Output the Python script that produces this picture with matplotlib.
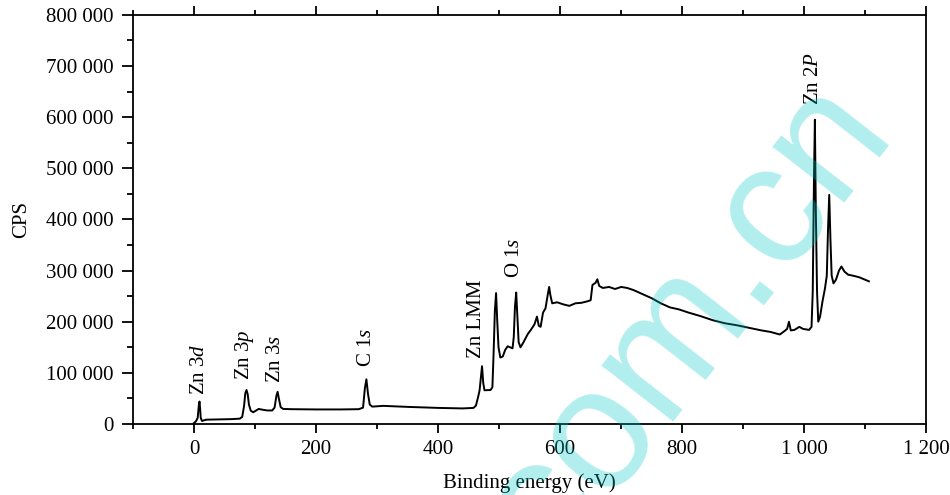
import matplotlib
matplotlib.use("Agg")
import matplotlib.pyplot as plt
from matplotlib.ticker import MultipleLocator, FuncFormatter

# binding energy (eV) and counts
energy = [0, 3, 6, 8, 9, 10, 11, 13, 16, 20, 40, 60, 75, 79, 82, 84, 86, 88, 90, 93,
          97, 101, 106, 112, 120, 128, 132, 135, 137, 139, 142, 146, 160, 200, 240,
          270, 277, 280, 282.5, 285, 288, 292, 310, 350, 400, 440, 458, 462, 466, 468,
          470, 472, 474, 476, 486, 489, 491, 493, 495, 497, 499, 502, 506, 510, 514,
          518, 522, 524, 526, 528, 530, 532, 535, 540, 547, 552, 558, 562, 565, 568,
          572, 576, 580, 582, 584, 587, 595, 605, 615, 625, 635, 645, 650, 653, 658,
          661, 664, 670, 680, 690, 700, 710, 720, 735, 750, 765, 780, 795, 810, 830,
          850, 870, 890, 910, 930, 945, 960, 968, 972, 975, 978, 984, 992, 998, 1008,
          1012, 1014, 1016, 1017.5, 1019, 1021, 1023, 1026, 1030, 1034, 1037, 1039,
          1041, 1043, 1045, 1048, 1052, 1057, 1061, 1066, 1072, 1080, 1090, 1098, 1106]
cps = [2000, 5000, 12000, 38000, 44000, 30000, 12000, 6000, 7000, 8500, 9000, 9500,
       10500, 14000, 35000, 60000, 66500, 58000, 38000, 26000, 23000, 26000, 29500,
       28000, 26500, 26500, 32000, 55000, 63000, 50000, 33000, 29500, 29000, 28500,
       28500, 29000, 32000, 70000, 87500, 60000, 38000, 34000, 35500, 33500, 31500,
       30500, 31500, 36000, 55000, 66000, 90000, 113000, 80000, 66000, 66500, 72000,
       140000, 220000, 256000, 200000, 150000, 130000, 132000, 145000, 152000, 150000,
       148000, 170000, 230000, 257000, 210000, 160000, 150000, 160000, 176000, 184000,
       195000, 210000, 192000, 190000, 218000, 226000, 255000, 268000, 252000, 236000,
       238000, 234000, 231000, 236000, 237000, 240000, 242000, 272000, 276000, 283000,
       270000, 266000, 268000, 264000, 268000, 266000, 262000, 254000, 246000, 236000,
       228000, 224000, 218000, 211000, 203000, 197000, 193000, 188000, 183000, 180000,
       175000, 182000, 186000, 200000, 183000, 184000, 190000, 186000, 184000, 190000,
       260000, 480000, 595000, 420000, 260000, 200000, 210000, 240000, 265000, 290000,
       380000, 448000, 360000, 290000, 275000, 282000, 300000, 308000, 298000, 292000,
       290000, 287000, 283000, 279000]

peak_labels = ["Zn 3$d$", "Zn 3$p$", "Zn 3$s$", "C 1$s$", "Zn LMM", "O 1$s$", "Zn 2$P$"]
label_x = [9, 82, 134, 283, 463, 526, 1016]
label_y = [56000, 86000, 80000, 111000, 129000, 285000, 624000]

plt.rcParams['font.family'] = ['Liberation Serif', 'DejaVu Serif']
plt.rcParams['mathtext.fontset'] = 'custom'
plt.rcParams['mathtext.rm'] = 'Liberation Serif'
plt.rcParams['mathtext.it'] = 'Liberation Serif:italic'
plt.rcParams['font.size'] = 15


def spaced(v, pos):
    return f"{v:,.0f}".replace(",", " ")


fig = plt.figure(figsize=(9.5, 4.95), dpi=100)
ax = fig.add_axes([0.14, 0.1434, 0.835, 0.8266])
ax.plot(energy, cps, color='black', lw=1.4)

for txt, x, y in zip(peak_labels, label_x, label_y):
    ax.text(x, y, txt, rotation=90, ha='center', va='bottom', fontsize=15)

ax.set_xlim(-100, 1200)
ax.set_ylim(0, 800000)
ax.xaxis.set_major_locator(MultipleLocator(200))
ax.xaxis.set_minor_locator(MultipleLocator(100))
ax.yaxis.set_major_locator(MultipleLocator(100000))
ax.yaxis.set_minor_locator(MultipleLocator(50000))
ax.xaxis.set_major_formatter(FuncFormatter(spaced))
ax.yaxis.set_major_formatter(FuncFormatter(spaced))

for s in ax.spines.values():
    s.set_linewidth(1.3)
ax.tick_params(axis='x', which='both', direction='out', top=True, bottom=True,
               width=1.3, labelsize=15, pad=5)
ax.tick_params(axis='x', which='major', length=6.5)
ax.tick_params(axis='x', which='minor', length=3.5)
ax.tick_params(axis='y', which='both', direction='out', left=True, right=False,
               width=1.3, labelsize=15, pad=6)
ax.tick_params(axis='y', which='major', length=8)
ax.tick_params(axis='y', which='minor', length=4)

ax.set_xlabel("Binding energy (eV)", fontsize=15)
ax.set_ylabel("CPS", fontsize=15)
ax.xaxis.set_label_coords(0.5, -0.12)
ax.yaxis.set_label_coords(-0.129, 0.5)

# site watermark
fig.text(723 / 950, 1 - 349 / 495, "com.cn", fontsize=124, family='Liberation Sans',
         color=(0, 198 / 255, 198 / 255), alpha=0.3, rotation=52,
         rotation_mode='anchor', ha='center', va='baseline', zorder=10)

fig.savefig("out.png", dpi=100)
